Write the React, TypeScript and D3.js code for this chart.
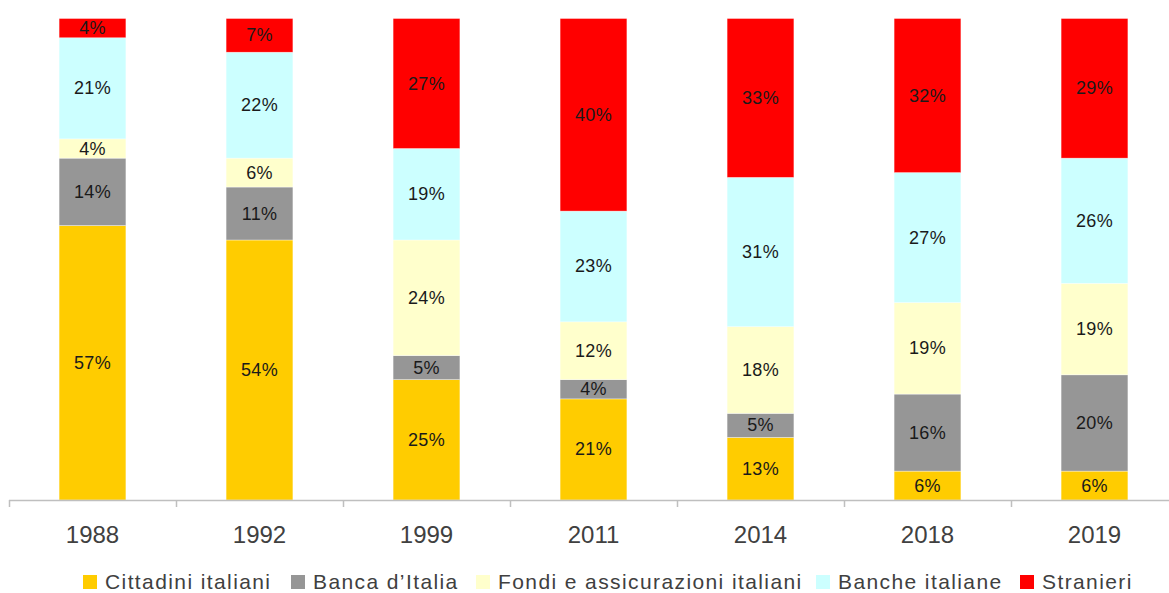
import { useEffect, useRef } from 'react';
import * as d3 from 'd3';

const years = ['1988', '1992', '1999', '2011', '2014', '2018', '2019'];
const seriesNames = ['Cittadini italiani', 'Banca d\u2019Italia', 'Fondi e assicurazioni italiani', 'Banche italiane', 'Stranieri'];
const seriesColors = ['#FFCC00', '#969696', '#FFFFCC', '#CCFFFF', '#FF0000'];

const cittadini = [57, 54, 25, 21, 13, 6, 6];
const bancaItalia = [14, 11, 5, 4, 5, 16, 20];
const fondi = [4, 6, 24, 12, 18, 19, 19];
const banche = [21, 22, 19, 23, 31, 27, 26];
const stranieri = [4, 7, 27, 40, 33, 32, 29];

const seriesValues = [cittadini, bancaItalia, fondi, banche, stranieri];

// legend item x positions (measured from layout)
const legendX = [83, 291, 476, 816, 1020];

export default function App() {
  const svgRef = useRef<SVGSVGElement>(null);

  useEffect(() => {
    if (!svgRef.current) return;
    const svg = d3.select(svgRef.current);
    svg.selectAll('*').remove();

    const width = 1169;
    const height = 593;
    svg.attr('width', width).attr('height', height);

    const font = '"Liberation Sans", Arial, sans-serif';

    const rows = years.map((y, i) => {
      const r: any = { year: y };
      seriesNames.forEach((s, j) => { r[s] = seriesValues[j][i]; });
      return r;
    });

    const stacked = d3.stack<any>().keys(seriesNames)(rows);

    const x = d3.scaleBand()
      .domain(years)
      .range([9, 9 + 7 * 167])
      .paddingInner(0.6)
      .paddingOuter(0.3);

    const y = d3.scaleLinear().domain([0, 100]).range([500, 18.5]);

    // Bars
    stacked.forEach((layer, j) => {
      const g = svg.append('g');
      g.selectAll('rect')
        .data(layer)
        .enter()
        .append('rect')
        .attr('x', d => x(d.data.year)!)
        .attr('width', x.bandwidth())
        .attr('y', d => y(d[1]))
        .attr('height', d => y(d[0]) - y(d[1]))
        .attr('fill', seriesColors[j])
        .attr('stroke', 'rgba(255,255,255,0.6)')
        .attr('stroke-width', 0.6);

      g.selectAll('text')
        .data(layer)
        .enter()
        .append('text')
        .attr('x', d => x(d.data.year)! + x.bandwidth() / 2)
        .attr('y', d => (y(d[0]) + y(d[1])) / 2 + 6)
        .attr('text-anchor', 'middle')
        .style('font-family', font)
        .style('font-size', '18px')
        .style('letter-spacing', '0.3px')
        .style('fill', '#1a1a1a')
        .text(d => `${d[1] - d[0]}%`);
    });

    // X axis
    const step = x.step();
    const [r0] = x.range();
    svg.append('line')
      .attr('x1', r0).attr('x2', width)
      .attr('y1', 500.5).attr('y2', 500.5)
      .attr('stroke', '#bfbfbf')
      .attr('stroke-width', 1.5);

    d3.range(years.length + 1).forEach(i => {
      const tx = Math.round(r0 + i * step) + 0.5;
      svg.append('line')
        .attr('x1', tx).attr('x2', tx)
        .attr('y1', 500).attr('y2', 507)
        .attr('stroke', '#bfbfbf')
        .attr('stroke-width', 1.5);
    });

    svg.append('g')
      .selectAll('text')
      .data(years)
      .enter()
      .append('text')
      .attr('x', d => x(d)! + x.bandwidth() / 2)
      .attr('y', 543)
      .attr('text-anchor', 'middle')
      .style('font-family', font)
      .style('font-size', '24px')
      .style('fill', '#404040')
      .text(d => d);

    // Legend
    const legend = svg.append('g');
    seriesNames.forEach((name, j) => {
      const lg = legend.append('g').attr('transform', `translate(${legendX[j]},0)`);
      lg.append('rect')
        .attr('x', 0).attr('y', 575)
        .attr('width', 14).attr('height', 14)
        .attr('fill', seriesColors[j]);
      lg.append('text')
        .attr('x', 22).attr('y', 589)
        .style('font-family', font)
        .style('font-size', '21px')
        .style('letter-spacing', '1.4px')
        .style('fill', '#404040')
        .text(name);
    });
  }, []);

  return (
    <svg ref={svgRef} style={{ position: 'absolute', left: 0, top: 0, background: '#fff' }} />
  );
}
